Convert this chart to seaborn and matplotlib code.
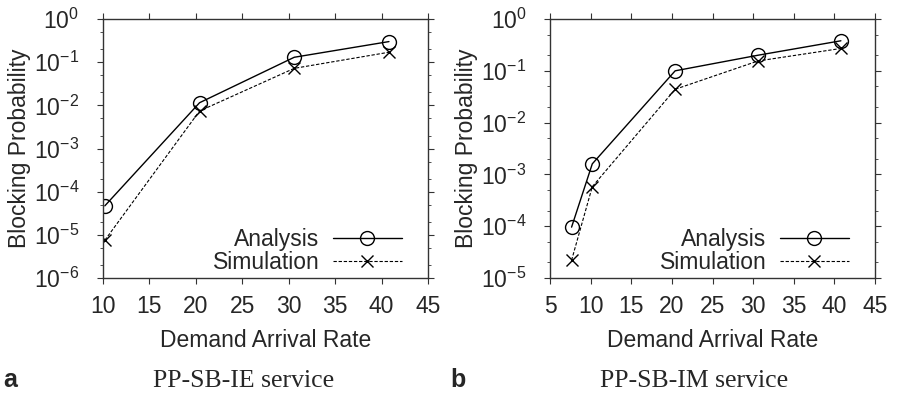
import numpy as np
import pandas as pd
import matplotlib
matplotlib.use("Agg")
import matplotlib.pyplot as plt
import seaborn as sns
from matplotlib.ticker import LogLocator, FixedLocator, FuncFormatter, NullFormatter

# ---- data ----
rate_a = [10.2, 20.4, 30.6, 40.8]
analysis_a = [4.7e-5, 1.15e-2, 0.13, 0.30]
simulation_a = [7.5e-6, 7.4e-3, 0.072, 0.17]

rate_b = [7.65, 10.2, 20.4, 30.6, 40.8]
analysis_b = [9.6e-5, 1.6e-3, 0.10, 0.20, 0.38]
simulation_b = [2.2e-5, 5.8e-4, 0.044, 0.155, 0.27]

xticks_a = [10, 15, 20, 25, 30, 35, 40, 45]
xticks_b = [5, 10, 15, 20, 25, 30, 35, 40, 45]
captions = ["PP-SB-IE service", "PP-SB-IM service"]
panel_letters = ["a", "b"]

sns.set_style("ticks")
plt.rcParams["font.family"] = ["Liberation Sans", "DejaVu Sans"]
plt.rcParams["mathtext.fontset"] = "custom"
plt.rcParams["mathtext.rm"] = "Liberation Sans"
plt.rcParams["mathtext.it"] = "Liberation Sans:italic"
plt.rcParams["mathtext.bf"] = "Liberation Sans:bold"

fig = plt.figure(figsize=(8.97, 3.97), dpi=100)
ax_a = fig.add_axes([0.1148, 0.2997, 0.3623, 0.6524])
ax_b = fig.add_axes([0.6132, 0.2997, 0.3623, 0.6524])

fs = 16.5

def draw(ax, x, ya, ys, xticks, xlim, ylim):
    df = pd.DataFrame({"x": x, "Analysis": ya, "Simulation": ys})
    sns.lineplot(data=df, x="x", y="Analysis", ax=ax, color="black", lw=1.0,
                 marker="o", markersize=10, markerfacecolor="none",
                 markeredgecolor="black", markeredgewidth=1.0, label="Analysis")
    sns.lineplot(data=df, x="x", y="Simulation", ax=ax, color="black", lw=0.8,
                 linestyle=(0, (3, 1.6)), marker="x", markersize=9,
                 markeredgecolor="black", markeredgewidth=1.0, label="Simulation")
    ax.set_yscale("log")
    ax.set_xlim(*xlim)
    ax.set_ylim(*ylim)
    ax.xaxis.set_major_locator(FixedLocator(xticks))
    ax.yaxis.set_major_locator(LogLocator(base=10, numticks=20))
    ax.yaxis.set_minor_locator(LogLocator(base=10, subs=(2.0, 5.0), numticks=20))
    ax.yaxis.set_minor_formatter(NullFormatter())
    ax.yaxis.set_major_formatter(FuncFormatter(
        lambda v, p: r"$10^{%d}$" % int(round(np.log10(v)))))
    ax.tick_params(axis="both", which="major", direction="out", length=4,
                   width=0.8, labelsize=fs, top=True, right=True, color="#333333")
    ax.tick_params(axis="y", which="major", pad=13)
    ax.tick_params(axis="x", which="major", pad=8)
    ax.tick_params(axis="both", which="minor", direction="out", length=2.5,
                   width=0.6, top=True, right=True, color="#333333")
    ax.tick_params(axis="x", which="minor", bottom=False, top=False)
    for s in ax.spines.values():
        s.set_visible(True)
        s.set_linewidth(1.0)
        s.set_color("#333333")
    ax.set_xlabel("Demand Arrival Rate", fontsize=fs, labelpad=8)
    ax.set_ylabel("Blocking Probability", fontsize=fs, labelpad=2)
    ax.legend(loc="lower right", bbox_to_anchor=(0.983, -0.066),
              frameon=False, markerfirst=False, fontsize=fs,
              handlelength=3.0, handletextpad=0.6, labelspacing=0.0,
              borderaxespad=0.5)

draw(ax_a, rate_a, analysis_a, simulation_a, xticks_a, (10, 45), (1e-6, 1))
draw(ax_b, rate_b, analysis_b, simulation_b, xticks_b, (5, 45), (1e-5, 1))

for i, (cap, let) in enumerate(zip(captions, panel_letters)):
    x0 = 0.004 if i == 0 else 0.5017
    fig.text(x0, 0.025, let, fontsize=18, fontweight="bold",
             family=["Liberation Sans"], ha="left", va="baseline")
    fig.text((0.0 if i == 0 else 0.5017) + 0.272, 0.025, cap, fontsize=18.5,
             family=["Liberation Serif"], ha="center", va="baseline")

fig.savefig("out.png", dpi=100)
